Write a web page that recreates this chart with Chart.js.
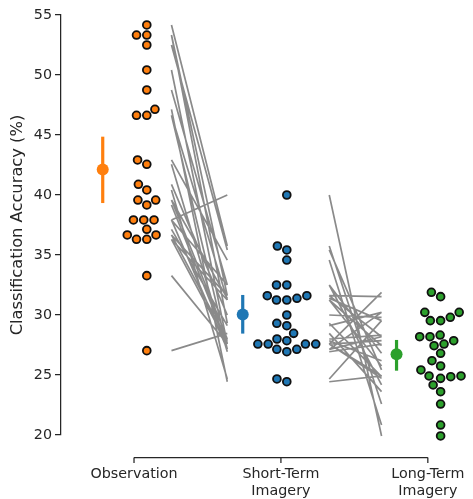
<!DOCTYPE html>
<html>
<head>
<meta charset="utf-8">
<script src="https://cdn.jsdelivr.net/npm/chart.js@4"></script>
<style>
  html, body { margin: 0; padding: 0; background: #fff; }
  #wrap { width: 473px; height: 499px; }
</style>
</head>
<body>
<div id="wrap"><canvas id="c"></canvas></div>
<script>
// Classification accuracy per participant in three conditions.
// Same index = same participant, so the grey lines join them up.
const CATEGORIES = ['Observation', 'Short-Term Imagery', 'Long-Term Imagery'];
const Y_TICKS = [20, 25, 30, 35, 40, 45, 50, 55];

const OBSERVATION = [54.17, 53.33, 53.33, 52.5, 50.42, 48.75, 47.14, 46.64, 46.64, 42.92, 42.56, 40.89, 40.42,
  39.58, 39.58, 39.17, 37.92, 37.92, 37.92, 37.14, 36.67, 36.67, 36.31, 36.31, 33.28, 27.03];
const SHORT_TERM = [35.75, 31.61, 29.31, 35.42, 27.58, 32.5, 24.44, 31.25, 27.14, 34.58, 26.94, 30.0, 24.67,
  28.0, 31.39, 27.58, 40.0, 32.5, 27.14, 29.11, 31.61, 27.86, 27.58, 31.25, 27.58, 28.47];
const LONG_TERM = [22.58, 31.53, 24.86, 25.42, 31.89, 26.81, 24.92, 25.75, 30.22, 20.83, 27.58, 29.81, 29.53,
  28.33, 29.53, 24.92, 19.92, 24.17, 28.19, 30.22, 28.19, 26.19, 27.86, 27.44, 24.72, 23.61];

// ends of the error bars around each mean
const CI_LOW = [39.33, 28.45, 25.36];
const CI_HIGH = [44.86, 31.67, 27.92];

const SERIES = [OBSERVATION, SHORT_TERM, LONG_TERM];
const COLORS = ['#ff7f0e', '#1f77b4', '#2ca02c'];
const AXIS_COLOR = '#262626';
const FONT = 'DejaVu Sans';

// layout (in category units)
const SWARM_SHIFT = [0.087, 0.04, 0.087];
const MEAN_GAP = 0.3;
const LINK_X = [[0.255, 0.635], [1.329, 1.685]];
const DOT_GAP = 9.8; // px between dot centres in the swarm

function mean(a) { return a.reduce((s, v) => s + v, 0) / a.length; }

// seaborn-like swarm: place points from low to high value,
// each as close to the centre line as it can go without overlapping
function beeswarm(ys, centre, d) {
  const pts = ys.map((y, i) => ({ i, y, x: centre }));
  const order = pts.slice().sort((a, b) => b.y - a.y);
  const placed = [];
  for (const p of order) {
    const near = placed.filter(q => Math.abs(q.y - p.y) < d);
    const cands = [centre];
    for (const q of near) {
      const dx = Math.sqrt(d * d - (q.y - p.y) ** 2) * 1.05;
      cands.push(q.x - dx, q.x + dx);
    }
    cands.sort((a, b) => Math.abs(a - centre) - Math.abs(b - centre));
    for (const cx of cands) {
      if (near.every(q => (q.x - cx) ** 2 + (q.y - p.y) ** 2 >= d * d * 0.999)) { p.x = cx; break; }
    }
    placed.push(p);
  }
  return pts.map(p => p.x);
}

function linkData() {
  const pts = [];
  const pairs = [[OBSERVATION, SHORT_TERM], [SHORT_TERM, LONG_TERM]];
  pairs.forEach(([a, b], k) => {
    a.forEach((v, i) => {
      pts.push({ x: LINK_X[k][0], y: v }, { x: LINK_X[k][1], y: b[i] }, { x: LINK_X[k][1], y: null });
    });
  });
  return pts;
}

const datasets = [{
  data: linkData(),
  showLine: true,
  spanGaps: false,
  borderColor: '#8a8a8a',
  borderWidth: 1.7,
  pointRadius: 0,
  clip: false,
}];

SERIES.forEach((vals, k) => {
  datasets.push({
    data: vals.map(v => ({ x: k + SWARM_SHIFT[k], y: v })),
    pointRadius: 3.9,
    pointBorderWidth: 1.8,
    pointBackgroundColor: COLORS[k],
    pointBorderColor: '#111',
    clip: false,
  });
});

SERIES.forEach((vals, k) => {
  const mx = k + SWARM_SHIFT[k] - MEAN_GAP;
  datasets.push({
    data: [{ x: mx, y: CI_LOW[k] }, { x: mx, y: mean(vals) }, { x: mx, y: CI_HIGH[k] }],
    showLine: true,
    borderColor: COLORS[k],
    borderWidth: 3.2,
    pointRadius: ctx => ctx.dataIndex === 1 ? 6 : 0,
    pointBackgroundColor: COLORS[k],
    pointBorderWidth: 0,
    clip: false,
  });
});

// x axis spine is drawn by hand: offset below the plot and trimmed to the outer ticks
const xSpine = {
  id: 'xSpine',
  afterDraw(chart) {
    const { ctx, chartArea, scales: { x } } = chart;
    const y = chartArea.bottom + 22.5;
    ctx.save();
    ctx.strokeStyle = AXIS_COLOR;
    ctx.lineWidth = 1.25;
    ctx.beginPath();
    ctx.moveTo(x.getPixelForValue(0), y);
    ctx.lineTo(x.getPixelForValue(CATEGORIES.length - 1), y);
    CATEGORIES.forEach((c, i) => {
      const px = x.getPixelForValue(i);
      ctx.moveTo(px, y);
      ctx.lineTo(px, y + 5.5);
    });
    ctx.stroke();
    ctx.restore();
  }
};

const chart = new Chart(document.getElementById('c'), {
  type: 'scatter',
  data: { datasets },
  plugins: [xSpine],
  options: {
    responsive: true,
    maintainAspectRatio: false,
    animation: false,
    layout: { padding: { top: 15, right: 0, bottom: 0, left: 0 } },
    plugins: { legend: { display: false }, tooltip: { enabled: false } },
    scales: {
      x: {
        type: 'linear',
        min: -0.497,
        max: 2.268,
        afterBuildTicks: s => { s.ticks = CATEGORIES.map((c, i) => ({ value: i })); },
        afterFit: s => { s.height = 64; },
        border: { display: false },
        grid: { display: true, drawOnChartArea: false, drawTicks: true, tickLength: 28, color: 'rgba(0,0,0,0)' },
        ticks: {
          padding: 3,
          maxRotation: 0,
          autoSkip: false,
          color: AXIS_COLOR,
          font: { family: FONT, size: 14.3 },
          callback: v => CATEGORIES[v].split(' '),
        },
      },
      y: {
        min: 20,
        max: 55,
        afterBuildTicks: s => { s.ticks = Y_TICKS.map(v => ({ value: v })); },
        afterFit: s => { s.width = 61; },
        border: { display: true, color: AXIS_COLOR, width: 1.25 },
        grid: { drawOnChartArea: false, drawTicks: true, tickLength: 6, color: AXIS_COLOR, lineWidth: 1.25 },
        ticks: { padding: 3, color: AXIS_COLOR, font: { family: FONT, size: 14.3 } },
        title: {
          display: true,
          text: 'Classification Accuracy (%)',
          color: AXIS_COLOR,
          font: { family: FONT, size: 16.3 },
          padding: { top: 8, bottom: 0 },
        },
      },
    },
  },
});

// swarm offsets need the pixel scales, so place the dots after the first layout
(function layoutSwarms() {
  const xs = chart.scales.x, ys = chart.scales.y;
  SERIES.forEach((vals, k) => {
    const centre = xs.getPixelForValue(k + SWARM_SHIFT[k]);
    const px = beeswarm(vals.map(v => ys.getPixelForValue(v)), centre, DOT_GAP);
    chart.data.datasets[k + 1].data = vals.map((v, i) => ({ x: xs.getValueForPixel(px[i]), y: v }));
  });
  chart.update('none');
})();
</script>
</body>
</html>
